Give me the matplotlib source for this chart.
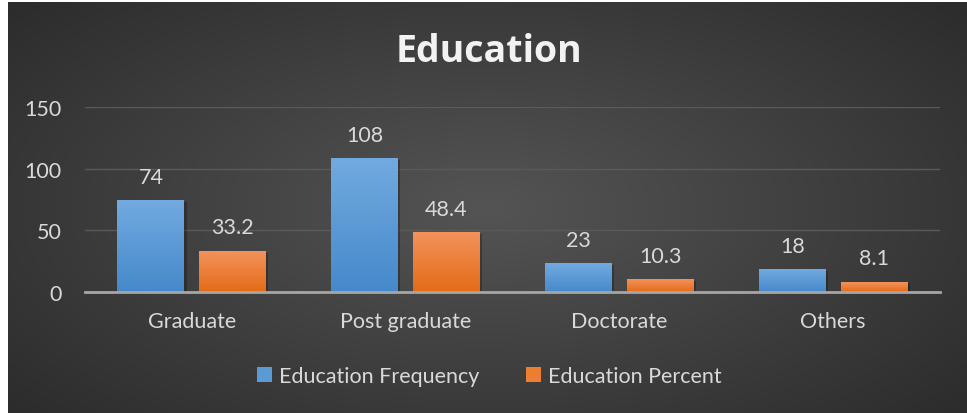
import numpy as np
import matplotlib
matplotlib.use("Agg")
import matplotlib.pyplot as plt
from matplotlib.patches import Patch

categories = ["Graduate", "Post graduate", "Doctorate", "Others"]
frequency = [74, 108, 23, 18]
percent = [33.2, 48.4, 10.3, 8.1]
freq_labels = ["74", "108", "23", "18"]
pct_labels = ["33.2", "48.4", "10.3", "8.1"]
yticks = [0, 50, 100, 150]

plt.rcParams['font.family'] = ['Lato', 'DejaVu Sans']
text_color = "#d9d9d9"

fig = plt.figure(figsize=(9.67, 4.14), dpi=100)
fig.patch.set_facecolor("white")

# radial-ish background gradient
bg = fig.add_axes([8 / 967, 0, 1 - 8 / 967, 1 - 3 / 414], zorder=-10)
yy, xx = np.mgrid[-1:1:200j, -1:1:400j]
r = np.sqrt((xx * 0.9) ** 2 + (yy * 0.8) ** 2)
shade = 0.33 - 0.17 * np.clip(r, 0, 1.3) / 1.3
bg.imshow(np.dstack([shade, shade, shade]), aspect="auto", extent=[0, 1, 0, 1])
bg.axis("off")

ax = fig.add_axes([85 / 967, 1 - 293 / 414, 855 / 967, 185 / 414])
ax.patch.set_alpha(0)
x = np.arange(len(categories))
w = 0.313
off = (w + 0.07) / 2

def gradient_bars(bars, top, bottom):
    for b in bars:
        bx, by = b.get_x(), b.get_y()
        bw, bh = b.get_width(), b.get_height()
        grad = np.linspace(0, 1, 64).reshape(-1, 1, 1)
        c = np.array(matplotlib.colors.to_rgb(top)) * (1 - grad) + np.array(matplotlib.colors.to_rgb(bottom)) * grad
        ax.imshow(c, aspect="auto", extent=[bx, bx + bw, by, by + bh], zorder=3)
        # soft shadow
        ax.bar(bx + bw / 2 + 0.01, bh, bw, bottom=-1.2, color="black", alpha=0.25, zorder=2)

b1 = ax.bar(x - off, frequency, w, color="#5b9bd5", zorder=3)
b2 = ax.bar(x + off, percent, w, color="#ed7d31", zorder=3)
gradient_bars(b1, "#72aae0", "#4689cb")
gradient_bars(b2, "#f3925b", "#e46b17")

for xi, v, lab in zip(x - off, frequency, freq_labels):
    ax.annotate(lab, (xi, v), xytext=(0, 17), textcoords="offset points",
                ha="center", va="center", color=text_color, fontsize=15.5)
for xi, v, lab in zip(x + off, percent, pct_labels):
    ax.annotate(lab, (xi, v), xytext=(0, 17), textcoords="offset points",
                ha="center", va="center", color=text_color, fontsize=15.5)

ax.set_xlim(-0.5, len(categories) - 0.5)
ax.set_ylim(0, 150)
ax.set_yticks(yticks)
ax.set_xticks(x)
ax.set_xticklabels(categories)
ax.tick_params(axis="both", length=0, colors=text_color, labelsize=15.5)
ax.tick_params(axis="y", pad=17)
ax.tick_params(axis="x", pad=14)
for s in ["top", "right", "left"]:
    ax.spines[s].set_visible(False)
ax.spines["bottom"].set_color("#a6a6a6")
ax.spines["bottom"].set_linewidth(2)
ax.spines["bottom"].set_zorder(4)
ax.grid(True, axis="y", color="#5a5a5a", linewidth=1)
ax.set_axisbelow(True)

fig.text(0.506, 1 - 52 / 414, "Education", ha="center", va="center",
         color="#f2f2f2", fontsize=27, fontweight="bold", family=["Open Sans", "DejaVu Sans"])

handles = [Patch(facecolor="#5b9bd5", label="Education Frequency"),
           Patch(facecolor="#ed7d31", label="Education Percent")]
fig.legend(handles=handles, loc="center", bbox_to_anchor=(0.506, 1 - 377 / 414),
           ncol=2, frameon=False, fontsize=15.5, labelcolor=text_color,
           handlelength=0.7, handleheight=0.7, handletextpad=0.3, columnspacing=2.2)

fig.savefig("out.png", dpi=100, facecolor=fig.get_facecolor())
